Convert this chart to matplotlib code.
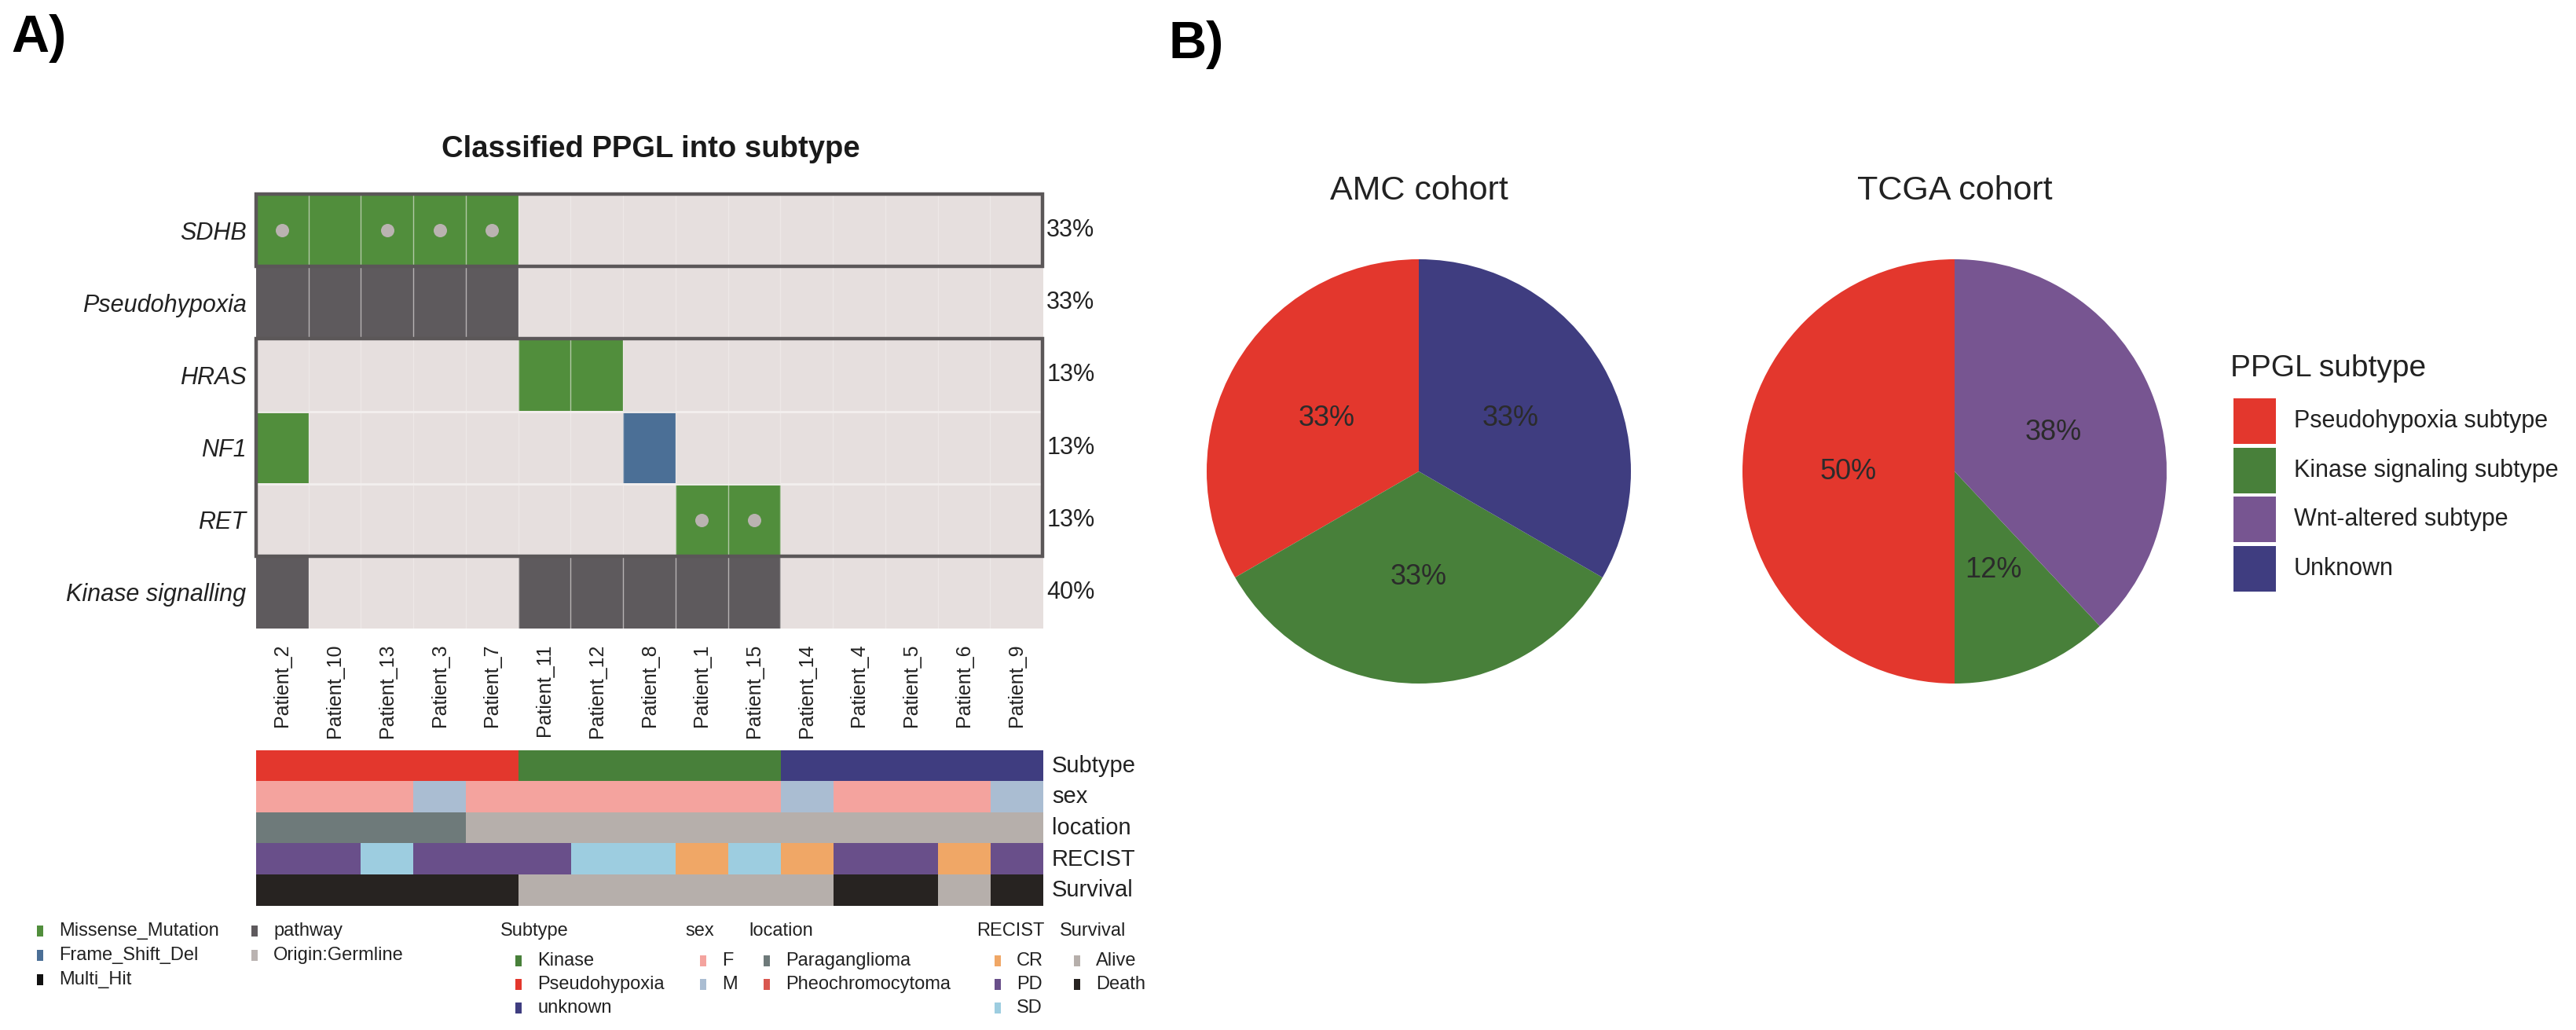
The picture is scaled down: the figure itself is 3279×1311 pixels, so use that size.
import numpy as np
import matplotlib
matplotlib.use("Agg")
import matplotlib.pyplot as plt
from matplotlib.patches import Rectangle
from matplotlib.colors import to_rgb

plt.rcParams['font.family'] = ['Liberation Sans', 'DejaVu Sans']

W, H = 3279, 1311

# ---- data: oncoplot (panel A) ----
patients = ["Patient_2", "Patient_10", "Patient_13", "Patient_3", "Patient_7",
            "Patient_11", "Patient_12", "Patient_8", "Patient_1", "Patient_15",
            "Patient_14", "Patient_4", "Patient_5", "Patient_6", "Patient_9"]
rows = ["SDHB", "Pseudohypoxia", "HRAS", "NF1", "RET", "Kinase signalling"]

# M = Missense_Mutation, F = Frame_Shift_Del, P = pathway, "" = none
sdhb   = ["M", "M", "M", "M", "M", "", "", "", "", "", "", "", "", "", ""]
pseudo = ["P", "P", "P", "P", "P", "", "", "", "", "", "", "", "", "", ""]
hras   = ["", "", "", "", "", "M", "M", "", "", "", "", "", "", "", ""]
nf1    = ["M", "", "", "", "", "", "", "F", "", "", "", "", "", "", ""]
ret    = ["", "", "", "", "", "", "", "", "M", "M", "", "", "", "", ""]
kinase = ["P", "", "", "", "", "P", "P", "P", "P", "P", "", "", "", "", ""]
onco = [sdhb, pseudo, hras, nf1, ret, kinase]

germline = {"SDHB": ["Patient_2", "Patient_13", "Patient_3", "Patient_7"],
            "RET": ["Patient_1", "Patient_15"]}

# clinical annotations
subtype  = ["Pseudohypoxia"] * 5 + ["Kinase"] * 5 + ["unknown"] * 5
sex      = ["F", "F", "F", "M", "F", "F", "F", "F", "F", "F", "M", "F", "F", "F", "M"]
location = ["Paraganglioma"] * 4 + ["Pheochromocytoma"] * 11
recist   = ["PD", "PD", "SD", "PD", "PD", "PD", "SD", "SD", "CR", "SD", "CR", "PD", "PD", "CR", "PD"]
survival = ["Death"] * 5 + ["Alive"] * 6 + ["Death", "Death", "Alive", "Death"]
ann_names = ["Subtype", "sex", "location", "RECIST", "Survival"]
ann_rows = [subtype, sex, location, recist, survival]

# ---- data: pies (panel B) ----
pie_groups = ["Pseudohypoxia subtype", "Kinase signaling subtype", "Wnt-altered subtype", "Unknown"]
amc_labels = ["Pseudohypoxia subtype", "Kinase signaling subtype", "Unknown"]
amc_counts = [5, 5, 5]
tcga_labels = ["Pseudohypoxia subtype", "Kinase signaling subtype", "Wnt-altered subtype"]
tcga_pct = [50, 12, 38]

# ---- colours ----
RED, GREEN, NAVY, PURPLE = "#e3372d", "#48803a", "#3f3d80", "#775591"
mut_col = {"M": "#518e3c", "F": "#4b6f96", "P": "#5e5a5d", "": "#e6dfde"}
germ_col = "#bab3b1"
ann_col = {
    "Subtype": {"Kinase": GREEN, "Pseudohypoxia": RED, "unknown": NAVY},
    "sex": {"F": "#f4a39e", "M": "#aabdd2"},
    "location": {"Paraganglioma": "#6e7a7a", "Pheochromocytoma": "#b6afab"},
    "RECIST": {"CR": "#f0a766", "PD": "#694f8a", "SD": "#9dcde0"},
    "Survival": {"Alive": "#b6afab", "Death": "#272321"},
}
pie_col = {"Pseudohypoxia subtype": RED, "Kinase signaling subtype": GREEN,
           "Wnt-altered subtype": PURPLE, "Unknown": NAVY}

fig = plt.figure(figsize=(W / 100, H / 100), dpi=100)


def frac(x0, y0, x1, y1):
    return [x0 / W, 1 - y1 / H, (x1 - x0) / W, (y1 - y0) / H]


# ---- oncoplot ----
n = len(patients)
ax = fig.add_axes(frac(326, 247, 1327, 800))
img = np.array([[to_rgb(mut_col[v]) for v in r] for r in onco])
ax.imshow(img, extent=(0, n, len(rows), 0), aspect="auto", interpolation="nearest")
for c in range(1, n):
    ax.axvline(c, color="#f3efee", lw=1, alpha=0.6)
for r in range(1, len(rows)):
    ax.axhline(r, color="#f3efee", lw=2)
for gene, pts in germline.items():
    ri = rows.index(gene)
    xs = [patients.index(p) + 0.5 for p in pts]
    ax.scatter(xs, [ri + 0.5] * len(xs), s=150, color=germ_col, zorder=3, lw=0)
# pathway boxes
for top, h in [(0, 1), (2, 3)]:
    ax.add_patch(Rectangle((0, top), n, h, fill=False, ec="#5b5758", lw=3.2,
                           clip_on=False, zorder=4))
ax.set_xlim(0, n)
ax.set_ylim(len(rows), 0)
ax.set_yticks(np.arange(len(rows)) + 0.5)
ax.set_yticklabels(rows, fontsize=22, style="italic", color="#222222")
ax.set_xticks(np.arange(n) + 0.5)
ax.set_xticklabels(patients, rotation=90, fontsize=18, color="#222222")
ax.tick_params(length=0, axis="y", pad=9)
ax.tick_params(length=0, axis="x", pad=14)
for s in ax.spines.values():
    s.set_visible(False)
for i, r in enumerate(onco):
    pct = 100 * sum(1 for v in r if v) / n
    ax.text(n + 0.08, i + 0.5, f"{pct:.0f}%", va="center", ha="left", fontsize=22,
            color="#222222")

# ---- annotation bars ----
ann = fig.add_axes(frac(326, 955, 1327, 1153))
aimg = np.array([[to_rgb(ann_col[name][v]) for v in r] for name, r in zip(ann_names, ann_rows)])
ann.imshow(aimg, extent=(0, n, len(ann_names), 0), aspect="auto", interpolation="nearest")
ann.set_xlim(0, n)
ann.set_ylim(len(ann_names), 0)
ann.axis("off")
for i, name in enumerate(ann_names):
    ann.text(n + 0.18, i + 0.5, name, va="center", ha="left", fontsize=21, color="#222222")

# ---- overlay for labels and legends ----
ov = fig.add_axes([0, 0, 1, 1], zorder=-1)
ov.set_xlim(0, W)
ov.set_ylim(H, 0)
ov.axis("off")

ov.text(14, 66, "A)", fontsize=48, fontweight="bold", va="baseline", ha="left")
ov.text(1488, 74, "B)", fontsize=48, fontweight="bold", va="baseline", ha="left")
ov.text(828, 190, "Classified PPGL into subtype", fontsize=27.5, fontweight="bold",
        ha="center", va="center", color="#1a1a1a")


def key(x, y, color, label):
    ov.add_patch(Rectangle((x - 4, y - 7), 8, 14, color=color, lw=0))
    ov.text(x + 24, y, label, fontsize=17, va="center", ha="left", color="#222222")


key(51, 1185, mut_col["M"], "Missense_Mutation")
key(51, 1216, mut_col["F"], "Frame_Shift_Del")
key(51, 1247, "#111111", "Multi_Hit")
key(324, 1185, mut_col["P"], "pathway")
key(324, 1216, germ_col, "Origin:Germline")

legend_groups = [
    ("Subtype", 637, 660, ["Kinase", "Pseudohypoxia", "unknown"]),
    ("sex", 872, 895, ["F", "M"]),
    ("location", 953, 976, ["Paraganglioma", "Pheochromocytoma"]),
    ("RECIST", 1243, 1270, ["CR", "PD", "SD"]),
    ("Survival", 1349, 1371, ["Alive", "Death"]),
]
legend_override = {"Pheochromocytoma": "#d9574f"}
for head, hx, mx, items in legend_groups:
    ov.text(hx, 1185, head, fontsize=17, va="center", ha="left", color="#222222")
    for j, it in enumerate(items):
        key(mx, 1223 + 30 * j, legend_override.get(it, ann_col[head][it]), it)

# ---- pies ----
def draw_pie(cx, title, labels, values):
    pa = fig.add_axes(frac(cx - 270, 330, cx + 270, 870))
    pa.pie(values, colors=[pie_col[l] for l in labels], startangle=90, counterclock=True,
           autopct="%.0f%%", pctdistance=0.5, wedgeprops=dict(linewidth=0),
           textprops=dict(fontsize=26, color="#2b2b2b"))
    pa.set_xlim(-1, 1)
    pa.set_ylim(-1, 1)
    ov.text(cx, 243, title, fontsize=31, ha="center", va="center", color="#222222")


draw_pie(1806, "AMC cohort", amc_labels, amc_counts)
draw_pie(2488, "TCGA cohort", tcga_labels, tcga_pct)

ov.text(2839, 469, "PPGL subtype", fontsize=28, ha="left", va="center", color="#222222")
for j, g in enumerate(pie_groups):
    top = 507 + 62.7 * j
    ov.add_patch(Rectangle((2843, top), 54, 58, color=pie_col[g], lw=0))
    ov.text(2920, top + 29, g, fontsize=22, ha="left", va="center", color="#222222")

fig.savefig("out.png", dpi=100)
